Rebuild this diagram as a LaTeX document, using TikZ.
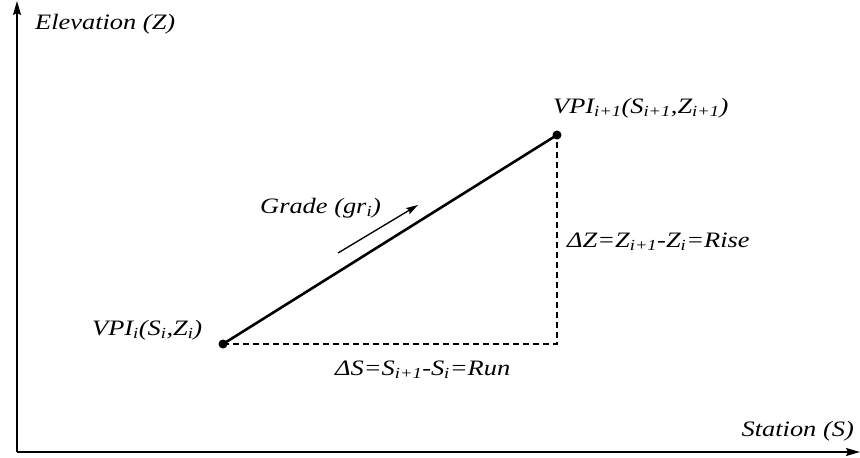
\documentclass[tikz,border=0pt]{standalone}
\usepackage{fontspec}
\setmainfont{Liberation Serif}[FakeStretch=1.2]
\usetikzlibrary{arrows.meta}
\newcommand{\sbs}[1]{\textsubscript{#1}}
\begin{document}
\begin{tikzpicture}[x=1pt,y=-1pt,
  lbl/.style={inner sep=0pt,font=\fontsize{22}{24}\selectfont\itshape},
  axis/.style={line width=1.5pt,-{Stealth[length=14pt,width=8pt,inset=2pt]}},
  grade/.style={line width=2.6pt},
  dashline/.style={line width=1.3pt,dash pattern=on 6pt off 4pt},
  pt/.style={circle,fill=black,inner sep=0pt,minimum size=9pt}]
\useasboundingbox (0,0) rectangle (860,458);
\coordinate (O) at (17,452);
\coordinate (Ytop) at (17,1);
\coordinate (Xend) at (860,452);
\draw[axis] (O) -- (Ytop);
\draw[axis] (O) -- (Xend);
\node[pt] (A) at (223,344) {};
\node[pt] (B) at (557,135) {};
\coordinate (C) at (557,344);
\draw[dashline] (A.center) -- (C) -- (B.center);
\draw[grade] (A.center) -- (B.center);
\coordinate (g1) at (338,253);
\coordinate (g2) at (418,205);
\draw[line width=1.3pt,-{Stealth[length=12pt,width=7pt,inset=2pt]}] (g1) -- (g2);
\node[lbl,anchor=base west] (ylab) at (35,29) {Elevation (Z)};
\node[lbl,anchor=base east] (xlab) at (854,436) {Station (S)};
\node[lbl,anchor=base west] (lB) at (553,113) {VPI\sbs{i+1}(S\sbs{i+1},Z\sbs{i+1})};
\node[lbl,anchor=base west] (lA) at (92,335) {VPI\sbs{i}(S\sbs{i},Z\sbs{i})};
\node[lbl,anchor=base west] (dz) at (567,247) {ΔZ=Z\sbs{i+1}-Z\sbs{i}=Rise};
\node[lbl,anchor=base west] (ds) at (335,375) {ΔS=S\sbs{i+1}-S\sbs{i}=Run};
\node[lbl,anchor=base west] (gr) at (260,213) {Grade (gr\sbs{i})};
\end{tikzpicture}
\end{document}
